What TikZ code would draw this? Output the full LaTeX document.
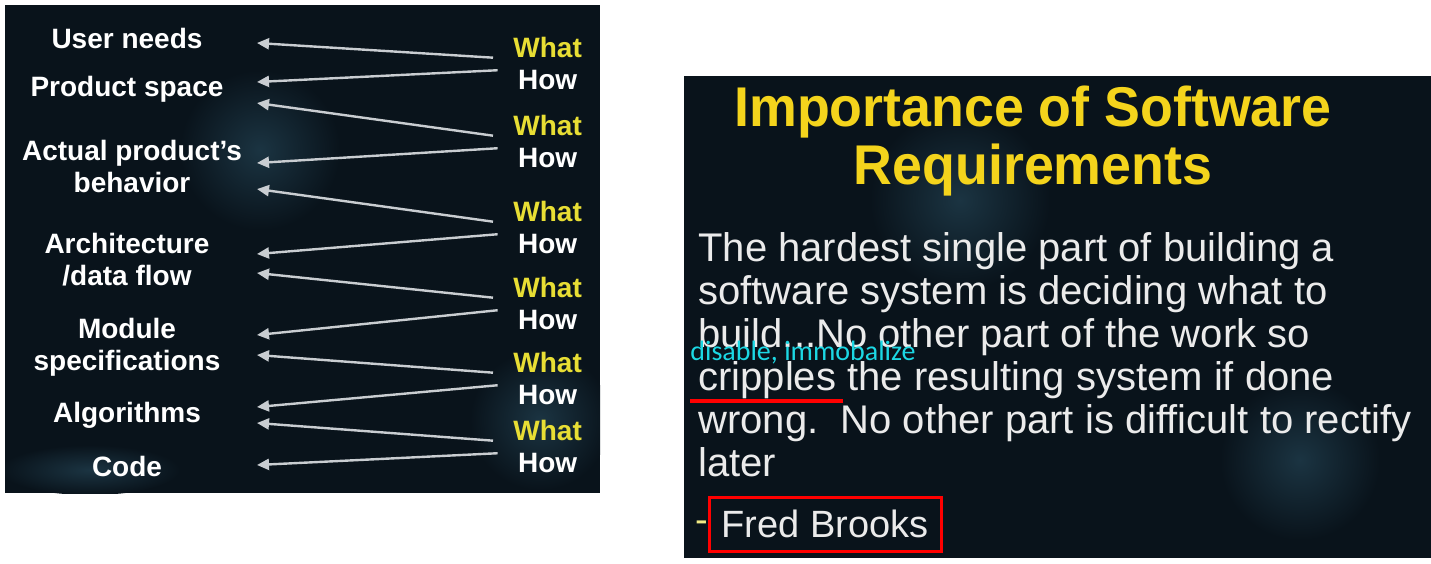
\documentclass[tikz,border=0pt]{standalone}
\usepackage{fontspec}
\setmainfont{Liberation Sans}
\newfontfamily\notefont{Carlito}
\usetikzlibrary{arrows.meta, positioning}

\definecolor{slidebg}{HTML}{09131B}
\definecolor{haze}{HTML}{1B3442}
\definecolor{whatyellow}{HTML}{E8DE34}
\definecolor{titleyellow}{HTML}{F4D41C}
\definecolor{linkgray}{HTML}{C9CDD1}
\definecolor{notecyan}{HTML}{1CD8E4}

\tikzset{
  level/.style={text=white, font=\bfseries\fontsize{14}{16}\selectfont, align=center, inner sep=0pt},
  what/.style={text=whatyellow, font=\bfseries\fontsize{14}{16}\selectfont, inner xsep=10pt, inner ysep=0pt},
  how/.style={text=white, font=\bfseries\fontsize{14}{16}\selectfont, inner xsep=10pt, inner ysep=0pt},
  link/.style={draw=linkgray, line width=1.2pt, -{Triangle[length=6pt,width=5.5pt]}},
  body/.style={text=white!92!black, font=\fontsize{20}{21.5}\selectfont, align=left, inner sep=0pt}
}

\begin{document}
\begin{tikzpicture}[x=0.5pt,y=-0.5pt,node distance=16.7pt]
\useasboundingbox (0,0) rectangle (1431,563);

% two slide panels, with a little haze on each
\fill[slidebg] (5,5) rectangle (600,493);
\fill[slidebg] (684,76) rectangle (1431,558);
\begin{scope}
  \clip (5,5) rectangle (600,493);
  \shade[inner color=haze, outer color=slidebg] (260,150) circle (80);
  \shade[inner color=haze, outer color=slidebg] (540,420) circle (70);
  \shade[inner color=haze, outer color=slidebg] (90,470) ellipse (90 and 25);
\end{scope}
\begin{scope}
  \clip (684,76) rectangle (1431,558);
  \shade[inner color=haze, outer color=slidebg] (960,200) circle (90);
  \shade[inner color=haze, outer color=slidebg] (1300,460) circle (80);
\end{scope}

% levels on the left
\node[level] (user)   at (127,38)  {User needs};
\node[level] (space)  at (127,89)  {Product space};
\node[level] (actual) at (132,166) {Actual product's\\behavior};
\node[level] (arch)   at (127,260) {Architecture\\/data flow};
\node[level] (module) at (127,347) {Module\\specifications};
\node[level] (algo)   at (127,415) {Algorithms};
\node[level] (code)   at (127,466) {Code};

% what / how pairs on the right
\node[what, anchor=west] (what1) at (493,47)  {What};
\node[how]  (how1) [below of=what1] {How};
\node[what, anchor=west] (what2) at (493,125) {What};
\node[how]  (how2) [below of=what2] {How};
\node[what, anchor=west] (what3) at (493,211) {What};
\node[how]  (how3) [below of=what3] {How};
\node[what, anchor=west] (what4) at (493,287) {What};
\node[how]  (how4) [below of=what4] {How};
\node[what, anchor=west] (what5) at (493,362) {What};
\node[how]  (how5) [below of=what5] {How};
\node[what, anchor=west] (what6) at (493,430) {What};
\node[how]  (how6) [below of=what6] {How};

% arrow tips next to the levels
\coordinate (t1)  at (257,43);
\coordinate (t2)  at (257,82);
\coordinate (t3)  at (257,103);
\coordinate (t4)  at (257,163);
\coordinate (t5)  at (257,189);
\coordinate (t6)  at (257,254);
\coordinate (t7)  at (257,273);
\coordinate (t8)  at (257,335);
\coordinate (t9)  at (257,355);
\coordinate (t10) at (257,407);
\coordinate (t11) at (257,423);
\coordinate (t12) at (257,465);

% define the links
\path (what1.south west) edge[link] (t1)
      (how1.north west)  edge[link] (t2)
      (what2.south west) edge[link] (t3)
      (how2.north west)  edge[link] (t4)
      (what3.south west) edge[link] (t5)
      (how3.north west)  edge[link] (t6)
      (what4.south west) edge[link] (t7)
      (how4.north west)  edge[link] (t8)
      (what5.south west) edge[link] (t9)
      (how5.north west)  edge[link] (t10)
      (what6.south west) edge[link] (t11)
      (how6.north west)  edge[link] (t12);

% quote slide
\node[text=titleyellow, font=\bfseries\fontsize{28}{29}\selectfont, align=center, inner sep=0pt]
  (title) at (1033,141) {\scalebox{0.96}[1]{Importance of Software}\\\scalebox{0.96}[1]{Requirements}};
\node[body, anchor=north west] (quote) at (698,232)
  {The hardest single part of building a\\
   software system is deciding what to\\
   build...No other part of the work so\\
   cripples the resulting system if done\\
   wrong.\ \ No other part is difficult to rectify\\
   later};
\node[text=notecyan, font=\notefont\fontsize{14}{16}\selectfont, anchor=base west, inner sep=0pt]
  (gloss) at (690,360) {disable, immobalize};
\coordinate (ul a) at (690,401);
\coordinate (ul b) at (843,401);
\draw[red, line width=2pt] (ul a) -- (ul b);
\node[text=whatyellow!60!white, font=\fontsize{19}{20}\selectfont, inner sep=0pt] (dash) at (702,527) {-};
\node[draw=red, line width=1.5pt, text=white!92!black, font=\fontsize{19}{20}\selectfont,
  minimum width=116pt, minimum height=27pt, inner sep=0pt] (fred) at (825,524) {Fred Brooks};
\end{tikzpicture}
\end{document}
